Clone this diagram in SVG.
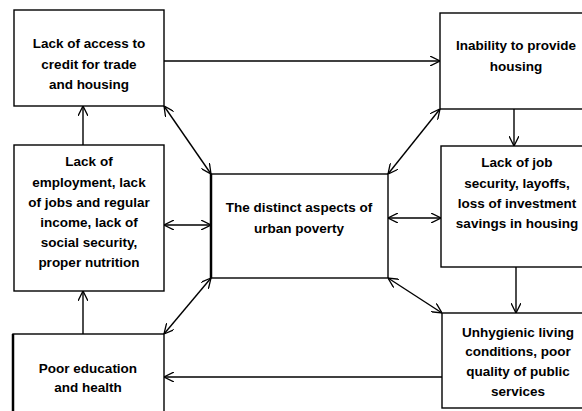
<svg xmlns="http://www.w3.org/2000/svg" width="582" height="411" viewBox="0 0 582 411">
<style>
.box{fill:#fff;stroke:#000;stroke-width:1.4}
.t{font-family:"Liberation Sans",Arial,sans-serif;font-weight:bold;font-size:13.5px;text-anchor:middle;fill:#000}
.c{stroke:#000;stroke-width:1.4;fill:none}
</style>
<defs>
<marker id="ah" viewBox="0 0 10 10" refX="10" refY="5" markerWidth="10" markerHeight="10" markerUnits="userSpaceOnUse" orient="auto-start-reverse">
<path d="M0,0 L10,5 L0,10" fill="none" stroke="#000" stroke-width="1.3"/>
</marker>
</defs>
<rect width="582" height="411" fill="#fff"/>
<g id="connectors">
<line class="c" x1="164" y1="61" x2="440" y2="61" marker-end="url(#ah)"/>
<line class="c" x1="83" y1="145" x2="83" y2="106" marker-end="url(#ah)"/>
<line class="c" x1="83" y1="334" x2="83" y2="291" marker-end="url(#ah)"/>
<line class="c" x1="514" y1="109" x2="514" y2="146" marker-end="url(#ah)"/>
<line class="c" x1="516" y1="267" x2="516" y2="313" marker-end="url(#ah)"/>
<line class="c" x1="442" y1="377" x2="164" y2="377" marker-end="url(#ah)"/>
<line class="c" x1="164" y1="225" x2="211" y2="225" marker-start="url(#ah)" marker-end="url(#ah)"/>
<line class="c" x1="388" y1="218" x2="441" y2="218" marker-start="url(#ah)" marker-end="url(#ah)"/>
<line class="c" x1="164" y1="106" x2="211" y2="174" marker-start="url(#ah)" marker-end="url(#ah)"/>
<line class="c" x1="440" y1="109" x2="388" y2="174" marker-start="url(#ah)" marker-end="url(#ah)"/>
<line class="c" x1="164" y1="334" x2="211" y2="278" marker-start="url(#ah)" marker-end="url(#ah)"/>
<line class="c" x1="442" y1="313" x2="388" y2="278" marker-start="url(#ah)" marker-end="url(#ah)"/>
</g>
<g id="n-credit">
<rect class="box" x="14" y="10" width="150" height="96"/>
<text class="t" x="89" y="48">Lack of access to</text>
<text class="t" x="89" y="69">credit for trade</text>
<text class="t" x="89" y="89">and housing</text>
</g>
<g id="n-housing">
<rect class="box" x="440" y="13" width="150" height="96"/>
<text class="t" x="516" y="50">Inability to provide</text>
<text class="t" x="516" y="71">housing</text>
</g>
<g id="n-employment">
<rect class="box" x="14" y="145" width="150" height="146"/>
<text class="t" x="89" y="166">Lack of</text>
<text class="t" x="89" y="187">employment, lack</text>
<text class="t" x="89" y="207">of jobs and regular</text>
<text class="t" x="89" y="227">income, lack of</text>
<text class="t" x="89" y="247">social security,</text>
<text class="t" x="89" y="267">proper nutrition</text>
</g>
<g id="n-center">
<rect class="box" x="211" y="174" width="177" height="104"/>
<line x1="211" y1="174" x2="211" y2="278" stroke="#000" stroke-width="2.5"/>
<text class="t" x="299" y="212">The distinct aspects of</text>
<text class="t" x="299" y="233">urban poverty</text>
</g>
<g id="n-jobsecurity">
<rect class="box" x="441" y="146" width="150" height="121"/>
<text class="t" x="517" y="167">Lack of job</text>
<text class="t" x="517" y="188">security, layoffs,</text>
<text class="t" x="517" y="208">loss of investment</text>
<text class="t" x="517" y="228">savings in housing</text>
</g>
<g id="n-education">
<rect class="box" x="13" y="334" width="151" height="90"/>
<line x1="13" y1="334" x2="13" y2="411" stroke="#000" stroke-width="2.5"/>
<text class="t" x="88" y="373">Poor education</text>
<text class="t" x="88" y="392">and health</text>
</g>
<g id="n-unhygienic">
<rect class="box" x="442" y="313" width="150" height="95"/>
<text class="t" x="518" y="337">Unhygienic living</text>
<text class="t" x="518" y="356">conditions, poor</text>
<text class="t" x="518" y="376">quality of public</text>
<text class="t" x="518" y="396">services</text>
</g>
</svg>
